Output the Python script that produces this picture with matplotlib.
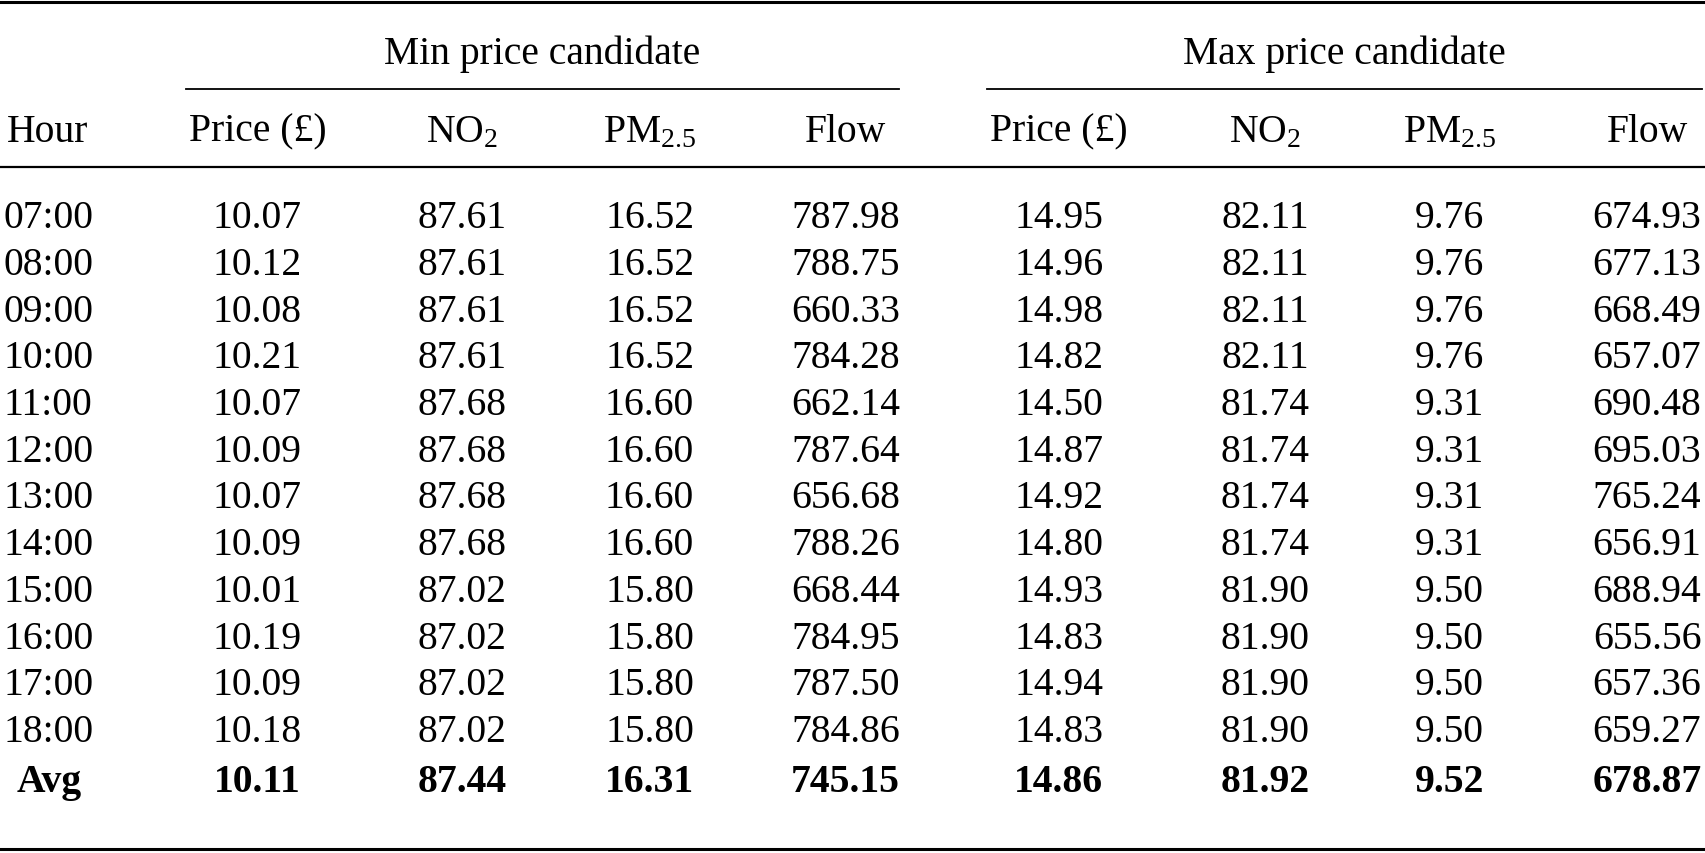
import matplotlib

matplotlib.use("Agg")
import matplotlib.pyplot as plt

plt.rcParams["font.family"] = ["Liberation Serif", "DejaVu Serif"]
plt.rcParams["mathtext.fontset"] = "custom"
plt.rcParams["mathtext.rm"] = "Liberation Serif"
plt.rcParams["mathtext.it"] = "Liberation Serif:italic"
plt.rcParams["mathtext.bf"] = "Liberation Serif:bold"

hours = ["07:00", "08:00", "09:00", "10:00", "11:00", "12:00",
         "13:00", "14:00", "15:00", "16:00", "17:00", "18:00"]
groups = ["Min price candidate", "Max price candidate"]
col_labels = ["Price (£)", r"NO$_{\mathrm{2}}$", r"PM$_{\mathrm{2.5}}$", "Flow"]

min_price = ["10.07", "10.12", "10.08", "10.21", "10.07", "10.09",
             "10.07", "10.09", "10.01", "10.19", "10.09", "10.18"]
min_no2 = ["87.61", "87.61", "87.61", "87.61", "87.68", "87.68",
           "87.68", "87.68", "87.02", "87.02", "87.02", "87.02"]
min_pm25 = ["16.52", "16.52", "16.52", "16.52", "16.60", "16.60",
            "16.60", "16.60", "15.80", "15.80", "15.80", "15.80"]
min_flow = ["787.98", "788.75", "660.33", "784.28", "662.14", "787.64",
            "656.68", "788.26", "668.44", "784.95", "787.50", "784.86"]
max_price = ["14.95", "14.96", "14.98", "14.82", "14.50", "14.87",
             "14.92", "14.80", "14.93", "14.83", "14.94", "14.83"]
max_no2 = ["82.11", "82.11", "82.11", "82.11", "81.74", "81.74",
           "81.74", "81.74", "81.90", "81.90", "81.90", "81.90"]
max_pm25 = ["9.76", "9.76", "9.76", "9.76", "9.31", "9.31",
            "9.31", "9.31", "9.50", "9.50", "9.50", "9.50"]
max_flow = ["674.93", "677.13", "668.49", "657.07", "690.48", "695.03",
            "765.24", "656.91", "688.94", "655.56", "657.36", "659.27"]

avg_label = "Avg"
avg_values = ["10.11", "87.44", "16.31", "745.15", "14.86", "81.92", "9.52", "678.87"]

# layout (figure fractions)
col_x = [0.151, 0.271, 0.381, 0.496, 0.621, 0.742, 0.850, 0.966]
group_spans = [(0.109, 0.527), (0.579, 0.998)]
fs = 28.5

fig = plt.figure(figsize=(17.05, 8.54), dpi=100)
ax = fig.add_axes([0, 0, 1, 1])
ax.set_xlim(0, 1)
ax.set_ylim(0, 1)
ax.axis("off")

# rules
ax.plot([0, 1], [0.996, 0.996], color="black", lw=2.2)
ax.plot([0, 1], [0.803, 0.803], color="black", lw=1.6)
ax.plot([0, 1], [0.005, 0.005], color="black", lw=2.2)
for (x0, x1), g in zip(group_spans, groups):
    ax.plot([x0, x1], [0.895, 0.895], color="black", lw=1.3)
    ax.text((x0 + x1) / 2, 0.937, g, ha="center", va="center", fontsize=fs)

# column headers
y_head = 0.845
ax.text(0.004, y_head, "Hour", ha="left", va="center", fontsize=fs)
for i, lab in enumerate(col_labels * 2):
    ax.text(col_x[i], y_head, lab, ha="center", va="center", fontsize=fs)

# body
columns = [min_price, min_no2, min_pm25, min_flow, max_price, max_no2, max_pm25, max_flow]
y0 = 0.744
dy = 0.0547
for r, h in enumerate(hours):
    y = y0 - r * dy
    ax.text(0.002, y, h, ha="left", va="center", fontsize=fs)
    for c, col in enumerate(columns):
        ax.text(col_x[c], y, col[r], ha="center", va="center", fontsize=fs)

y = y0 - len(hours) * dy - 0.004
ax.text(0.010, y, avg_label, ha="left", va="center", fontsize=fs, fontweight="bold")
for c, v in enumerate(avg_values):
    ax.text(col_x[c], y, v, ha="center", va="center", fontsize=fs, fontweight="bold")

fig.savefig("out.png", dpi=100)
